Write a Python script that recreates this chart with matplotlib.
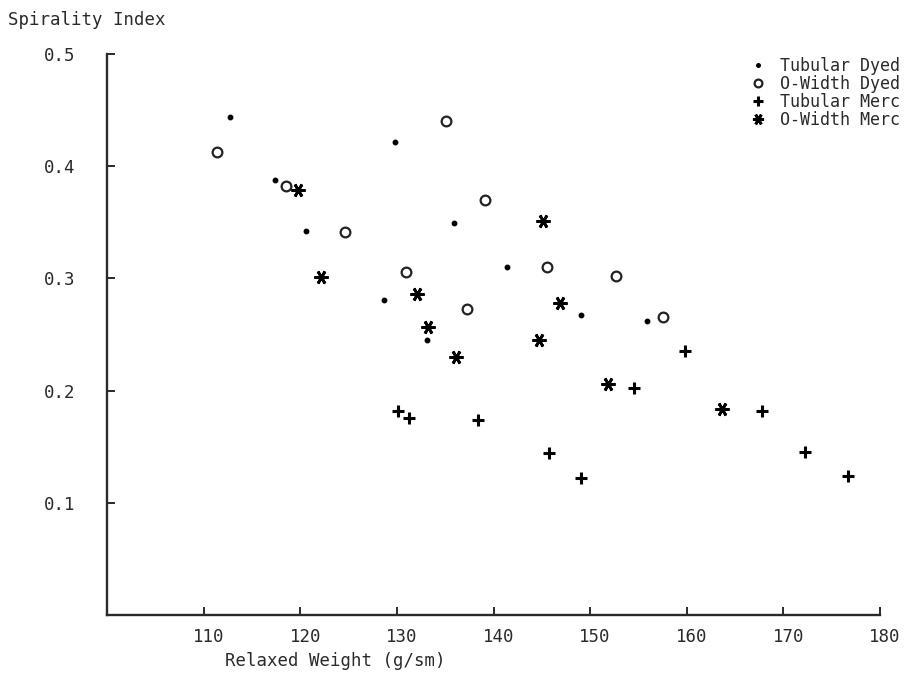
import matplotlib
matplotlib.use("Agg")
import matplotlib.pyplot as plt
import matplotlib.transforms as mtransforms

# ---- data ----
tub_dyed_x = [112.7, 117.4, 120.6, 129.8, 135.9, 141.4, 128.7, 133.1, 149.1, 155.9]
tub_dyed_y = [0.444, 0.388, 0.342, 0.422, 0.349, 0.310, 0.281, 0.245, 0.267, 0.262]

ow_dyed_x = [111.4, 118.5, 124.6, 135.1, 139.1, 130.9, 145.5, 137.3, 152.7, 157.5]
ow_dyed_y = [0.413, 0.382, 0.341, 0.440, 0.370, 0.306, 0.310, 0.273, 0.302, 0.266]

tub_merc_x = [130.1, 131.3, 138.4, 145.7, 149.1, 154.5, 159.8, 167.8, 172.2, 176.7]
tub_merc_y = [0.182, 0.176, 0.174, 0.144, 0.122, 0.202, 0.235, 0.182, 0.145, 0.124]

ow_merc_x = [119.8, 122.1, 132.1, 133.2, 136.1, 145.1, 144.7, 146.9, 151.9, 163.6]
ow_merc_y = [0.379, 0.301, 0.286, 0.257, 0.230, 0.351, 0.245, 0.278, 0.206, 0.184]

series_labels = ["Tubular Dyed", "O-Width Dyed", "Tubular Merc", "O-Width Merc"]
x_ticks = [110, 120, 130, 140, 150, 160, 170, 180]
y_ticks = [0.1, 0.2, 0.3, 0.4, 0.5]
x_title = "Relaxed Weight (g/sm)"
y_title = "Spirality Index"

FONT = ["DejaVu Sans Mono"]
plt.rcParams["font.family"] = FONT
TXT = "#2a2a2a"
FS = 12.5

W, H = 918, 675
fig = plt.figure(figsize=(W / 100, H / 100), dpi=100)
ax = fig.add_axes([107 / W, 1 - 615 / H, (880 - 107) / W, (615 - 54) / H])

ax.plot(tub_dyed_x, tub_dyed_y, linestyle="none", marker="o", ms=3.2,
        color="black", label=series_labels[0])
ax.plot(ow_dyed_x, ow_dyed_y, linestyle="none", marker="o", ms=7,
        mfc="none", mec="#222222", mew=1.6, label=series_labels[1])
ax.plot(tub_merc_x, tub_merc_y, linestyle="none", marker="+", ms=9,
        mew=2.2, color="black", label=series_labels[2])
ax.plot(ow_merc_x, ow_merc_y, linestyle="none", marker=(6, 2, 90), ms=10,
        mew=2.0, color="black", label=series_labels[3])

ax.set_xlim(100, 180)
ax.set_ylim(0, 0.5)
ax.set_xticks(x_ticks)
ax.set_yticks(y_ticks)
ax.set_xticklabels([str(v) for v in x_ticks])
ax.set_yticklabels([f"{v:.1f}" for v in y_ticks])

for s in ("top", "right"):
    ax.spines[s].set_visible(False)
for s in ("left", "bottom"):
    ax.spines[s].set_linewidth(1.7)
    ax.spines[s].set_color("#2a2a2a")

ax.tick_params(axis="both", direction="in", length=6, width=1.4,
               colors="#2a2a2a", labelcolor=TXT, labelsize=FS)
ax.tick_params(axis="y", pad=23)
ax.tick_params(axis="x", pad=9)

off = mtransforms.ScaledTranslation(5 / 100, 0, fig.dpi_scale_trans)
for lab in ax.get_xticklabels():
    lab.set_transform(lab.get_transform() + off)

fig.text(8 / W, 1 - 20 / H, y_title, ha="left", va="center",
         fontsize=FS, color=TXT)
fig.text(225 / W, 1 - 661 / H, x_title, ha="left", va="center",
         fontsize=FS, color=TXT)

leg = ax.legend(loc="upper right", bbox_to_anchor=(900 / W, 1 - 57 / H),
                bbox_transform=fig.transFigure, frameon=False,
                borderaxespad=0, borderpad=0, handlelength=0.8,
                handletextpad=0.9, labelspacing=0.0, fontsize=12,
                markerscale=0.8)
for t in leg.get_texts():
    t.set_color(TXT)

fig.savefig("out.png", dpi=100, facecolor="white")
